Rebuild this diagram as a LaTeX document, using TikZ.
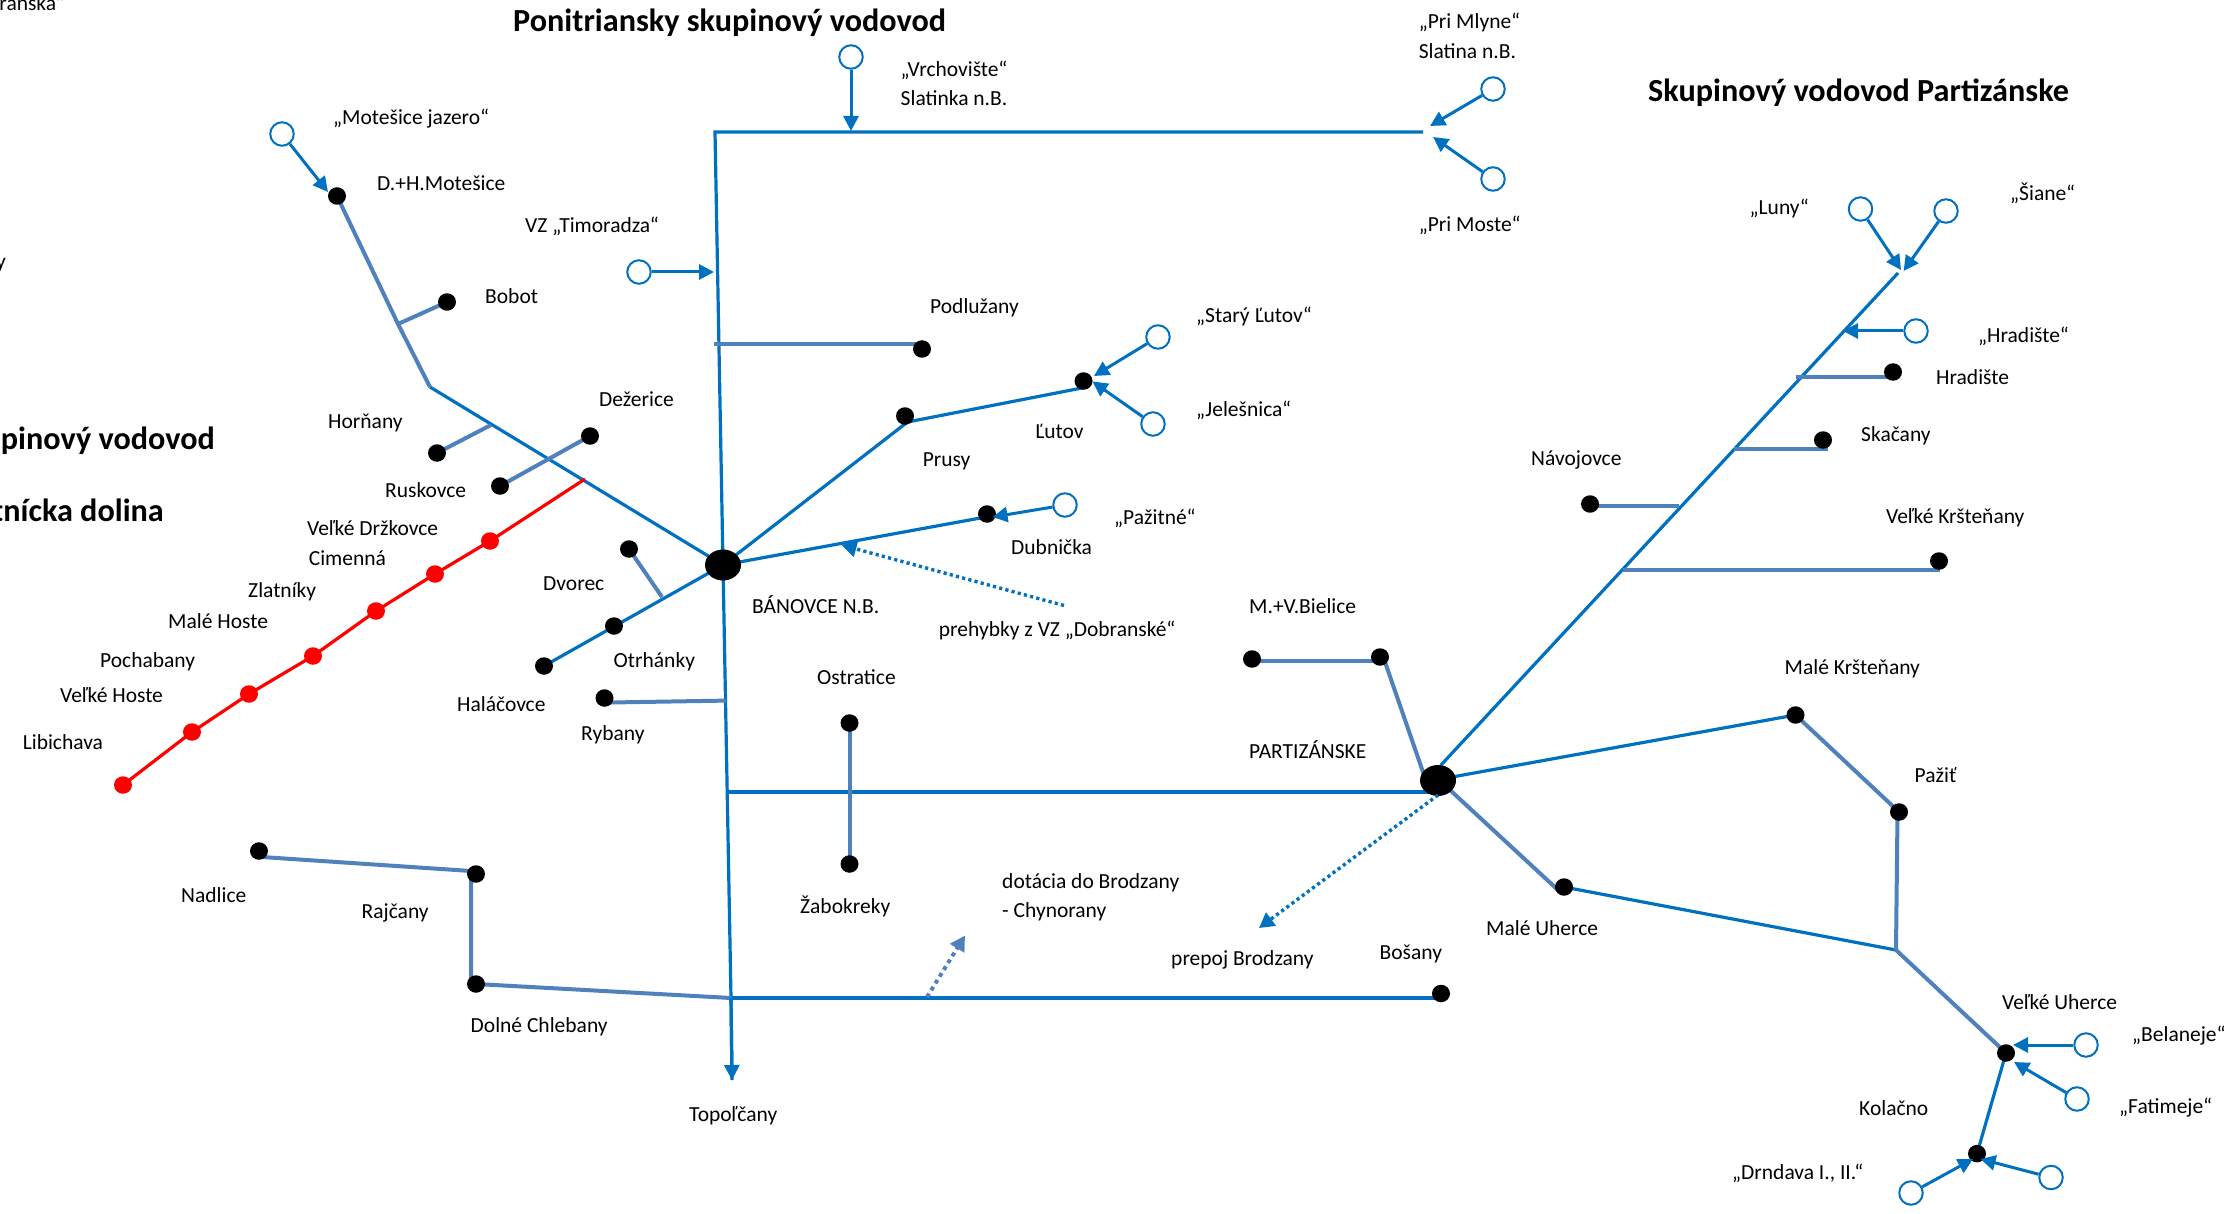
\documentclass[tikz,border=0pt]{standalone}
\usepackage{fontspec}
\setmainfont{Carlito}
\usetikzlibrary{arrows.meta,shapes.geometric}
\definecolor{pipeblue}{HTML}{0070C0}
\definecolor{pipesteel}{HTML}{4F81BD}
\pgfdeclarelayer{under}
\pgfsetlayers{under,main}
\tikzset{
  opendot/.style={circle,draw=pipeblue,fill=white,line width=2pt,minimum size=23.5pt,inner sep=0pt},
  blackdot/.style={ellipse,fill=black,minimum width=18pt,minimum height=17.5pt,inner sep=0pt},
  reddot/.style={ellipse,fill=red,minimum width=18pt,minimum height=17.5pt,inner sep=0pt},
  hubdot/.style={ellipse,fill=black,minimum width=36pt,minimum height=31pt,inner sep=0pt},
  lab/.style={anchor=base west,inner sep=0pt,font=\fontsize{21.5}{25}\selectfont},
  labr/.style={anchor=base east,inner sep=0pt,font=\fontsize{21.5}{25}\selectfont},
  ttl/.style={anchor=base west,inner sep=0pt,font=\fontsize{32.2}{37}\selectfont\bfseries},
  ttlr/.style={anchor=base east,inner sep=0pt,font=\fontsize{32.2}{37}\selectfont\bfseries},
  blue pipe/.style={draw=pipeblue,line width=3.2pt},
  steel pipe/.style={draw=pipesteel,line width=4pt},
  red pipe/.style={draw=red,line width=3.2pt},
  feed/.style={draw=pipeblue,line width=3pt,-{Triangle[length=15pt,width=15pt]}},
  dotblue/.style={draw=pipeblue,line width=3.4pt,dash pattern=on 3.2pt off 3.2pt,-{Triangle[length=15pt,width=16pt]}},
  dotsteel/.style={draw=pipesteel,line width=4pt,dash pattern=on 4pt off 4pt,-{Triangle[length=15pt,width=16pt]}},
}
\begin{document}
\begin{tikzpicture}[x=1pt,y=-1pt]
\useasboundingbox (0,0) rectangle (2224,1214);
% titles
\node[ttl] (tPon) at (513,31.5) {Ponitriansky skupinový vodovod};
\node[ttl] (tPar) at (1648,102) {Skupinový vodovod Partizánske};
\node[ttlr] (tA) at (215,449.5) {upinový vodovod};
\node[ttlr] (tB) at (164,521) {tnícka dolina};
\node[labr] (tCutA) at (65,11) {ranská“};
\node[labr] (tCutB) at (6,269) {y};
% labels
\foreach \nm/\px/\py/\tx in {
 a1/333/125/{„Motešice jazero“}, a2/377/190.6/{D.+H.Motešice}, a3/525/232.5/{VZ „Timoradza“},
 a4/485/303.5/{Bobot}, a5/599/406/{Dežerice}, a6/328/428.6/{Horňany}, a7/385/497.5/{Ruskovce},
 a8/307/535/{Veľké Držkovce}, a9/308.6/565/{Cimenná}, a10/248/597/{Zlatníky}, a11/543/590.5/{Dvorec},
 b1/168/628/{Malé Hoste}, b2/100/667/{Pochabany}, b3/60/702/{Veľké Hoste}, b4/22.6/749.6/{Libichava},
 b5/613.5/667/{Otrhánky}, b6/457/711.6/{Haláčovce}, b7/581/740/{Rybany}, b8/181/902/{Nadlice},
 b9/361.5/918/{Rajčany}, b10/470.5/1032/{Dolné Chlebany}, b11/689/1121.5/{Topoľčany},
 c1/900.5/76.5/{„Vrchovište“}, c2/900.5/105.5/{Slatinka n.B.}, c3/1418.6/28.7/{„Pri Mlyne“},
 c4/1418.6/58.5/{Slatina n.B.}, c5/1418.6/231.5/{„Pri Moste“}, c6/930/314/{Podlužany},
 c7/1196/322.6/{„Starý Ľutov“}, c8/1196/416/{„Jelešnica“}, c9/1035/438.6/{Ľutov}, c10/922.6/466/{Prusy},
 c11/1114/524/{„Pažitné“}, c12/1011/554.5/{Dubnička},
 d1/752/613/{BÁNOVCE N.B.}, d2/938.7/636.4/{prehybky z VZ „Dobranské“}, d3/1249/613/{M.+V.Bielice},
 d4/817/684.6/{Ostratice}, d5/1249/758/{PARTIZÁNSKE}, d6/800/913/{Žabokreky},
 d7/1002/888/{dotácia do Brodzany}, d8/1002/917.5/{- Chynorany}, d9/1171/965/{prepoj Brodzany},
 d10/1379.5/959.4/{Bošany},
 e1/2010/201/{„Šiane“}, e2/1749.5/215/{„Luny“}, e3/1978/342.5/{„Hradište“}, e4/1936/384.5/{Hradište},
 e5/1861/441.6/{Skačany}, e6/1531/465/{Návojovce}, e7/1886/523.5/{Veľké Kršteňany},
 f1/1784.5/674/{Malé Kršteňany}, f2/1914.5/782.5/{Pažiť}, f3/1486/935/{Malé Uherce},
 f4/2002/1009/{Veľké Uherce}, f5/2132/1041/{„Belaneje“}, f6/2119/1113.7/{„Fatimeje“},
 f7/1859/1115/{Kolačno}, f8/1732/1179.5/{„Drndava I., II.“}}
 {\node[lab] (t\nm) at (\px,\py) {\tx};}
% hubs
\node[hubdot] (ban) at (723,565) {};
\node[hubdot] (par) at (1438,780.5) {};
% black dots
\node[blackdot] (mot) at (337,196) {};
\node[blackdot] (bob) at (447,302) {};
\node[blackdot] (hor) at (437,453) {};
\node[blackdot] (dez) at (590,436) {};
\node[blackdot] (rus) at (500,486) {};
\node[blackdot] (dvo) at (629,549) {};
\node[blackdot] (otr) at (614,626) {};
\node[blackdot] (hal) at (544,666) {};
\node[blackdot] (ryb) at (604.5,698) {};
\node[blackdot] (pod) at (922,349) {};
\node[blackdot] (pru) at (905,416) {};
\node[blackdot] (lut) at (1083.5,381) {};
\node[blackdot] (dub) at (987,514) {};
\node[blackdot] (nad) at (259,851) {};
\node[blackdot] (raj) at (476,874) {};
\node[blackdot] (dol) at (476,984) {};
\node[blackdot] (ost) at (849.5,723) {};
\node[blackdot] (zab) at (849.5,864) {};
\node[blackdot] (bos) at (1441,993.5) {};
\node[blackdot] (bie) at (1252,659) {};
\node[blackdot] (bir) at (1380,657) {};
\node[blackdot] (hra) at (1893,372) {};
\node[blackdot] (ska) at (1823,440) {};
\node[blackdot] (nav) at (1590,504) {};
\node[blackdot] (vkr) at (1939,561) {};
\node[blackdot] (mkr) at (1795.5,715) {};
\node[blackdot] (paz) at (1899,812) {};
\node[blackdot] (muh) at (1564,887) {};
\node[blackdot] (vuh) at (2006,1053) {};
\node[blackdot] (kol) at (1977,1153.6) {};
% red dots
\node[reddot] (r1) at (490,541) {};
\node[reddot] (r2) at (435,574) {};
\node[reddot] (r3) at (376,611) {};
\node[reddot] (r4) at (313,656) {};
\node[reddot] (r5) at (249,694) {};
\node[reddot] (r6) at (192,732) {};
\node[reddot] (r7) at (123,785) {};
% sources
\node[opendot] (sMot) at (282,134) {};
\node[opendot] (sTim) at (639,272) {};
\node[opendot] (sVrc) at (851,57) {};
\node[opendot] (sMly) at (1493,89) {};
\node[opendot] (sMos) at (1493,179) {};
\node[opendot] (sSta) at (1158,337) {};
\node[opendot] (sJel) at (1153,424) {};
\node[opendot] (sPaz) at (1065,505) {};
\node[opendot] (sLun) at (1860.5,209) {};
\node[opendot] (sSia) at (1946,211) {};
\node[opendot] (sHra) at (1916,331) {};
\node[opendot] (sBel) at (2086,1045) {};
\node[opendot] (sFat) at (2077,1099) {};
\node[opendot] (sDrn) at (1911,1193) {};
\node[opendot] (sDr2) at (2051,1177.5) {};
% junctions and free ends
\coordinate (mTop) at (715,132);
\coordinate (mEnd) at (732,1080);
\coordinate (mRight) at (1423,132);
\coordinate (mPod) at (714,344);
\coordinate (mRyb) at (726,700.6);
\coordinate (mPar) at (726,792);
\coordinate (mParE) at (1430,792);
\coordinate (mBos) at (731,998);
\coordinate (mBosE) at (1436,998);
\coordinate (jMotA) at (398,324);
\coordinate (jMotB) at (430,387);
\coordinate (jHor) at (491,425);
\coordinate (jRed) at (585,479);
\coordinate (jDvo) at (662,597);
\coordinate (jPru) at (907.5,422);
\coordinate (jLut) at (1087,387);
\coordinate (jDub) at (986,517);
\coordinate (jTop) at (1898,273);
\coordinate (jParTop) at (1441,765);
\coordinate (jParMk) at (1452,777);
\coordinate (jParMu) at (1450,790);
\coordinate (jMuh) at (1558,890);
\coordinate (jParBi) at (1424,775);
\coordinate (jBirS) at (1385,662);
\coordinate (jHra) at (1796,377);
\coordinate (jHraE) at (1893,377);
\coordinate (jSka) at (1734,449);
\coordinate (jSkaE) at (1828,449);
\coordinate (jNav) at (1679,506);
\coordinate (jNavS) at (1590,506);
\coordinate (jVkr) at (1623,569.5);
\coordinate (jVkrE) at (1940,569.5);
\coordinate (jBie) at (1380,661);
\coordinate (jBieL) at (1252,661);
\coordinate (jPazS) at (1897.5,812);
\coordinate (jBot) at (1896,950);
\coordinate (jNad) at (262,857);
\coordinate (jRaj) at (471,871);
\coordinate (jDolB) at (471,984);
\coordinate (jPodE) at (922,344);
\coordinate (jRyb) at (610,702.5);
\coordinate (tipMot) at (328,192);
\coordinate (tipTim) at (714,272);
\coordinate (tipVrc) at (851,131);
\coordinate (tipMly) at (1430,126);
\coordinate (tipMos) at (1433,137);
\coordinate (tipSta) at (1094,376);
\coordinate (tipJel) at (1092.5,381.5);
\coordinate (tipPaz) at (992.5,517);
\coordinate (tipLun) at (1901,270);
\coordinate (tipSia) at (1903.6,271);
\coordinate (tipHra) at (1843,331);
\coordinate (tipBel) at (2013,1045);
\coordinate (tipFat) at (2014,1062);
\coordinate (tipDrn) at (1973,1159);
\coordinate (tipDr2) at (1980.5,1159);
\coordinate (dotA) at (1064,605.5);
\coordinate (tipA) at (841.5,545);
\coordinate (dotB) at (1438,795);
\coordinate (tipB) at (1259,928);
\coordinate (dotC) at (927,997);
\coordinate (tipC) at (965,935.5);
\begin{pgfonlayer}{under}
% blue mains
\draw[blue pipe] (mRight) -- (mTop) -- (mBos) -- (mEnd);
\draw[blue pipe] (mPar) -- (mParE);
\draw[blue pipe] (mBos) -- (mBosE);
\draw[blue pipe] (jMotB) -- (ban.center);
\draw[blue pipe] (ban.center) -- (hal.center);
\draw[blue pipe] (ban.center) -- (jPru) -- (jLut);
\draw[blue pipe] (ban.center) -- (jDub);
\draw[blue pipe] (jParTop) -- (jTop);
\draw[blue pipe] (jParMk) -- (mkr.center);
\draw[blue pipe] (muh.center) -- (jBot);
\draw[blue pipe] (vuh.center) -- (kol.center);
% steel branches
\draw[steel pipe] (mot.center) -- (jMotA) -- (jMotB);
\draw[steel pipe] (jMotA) -- (bob.center);
\draw[steel pipe] (jHor) -- (hor.center);
\draw[steel pipe] (dez.center) -- (rus.center);
\draw[steel pipe] (dvo.center) -- (jDvo);
\draw[steel pipe] (jRyb) -- (mRyb);
\draw[steel pipe] (mPod) -- (jPodE);
\draw[steel pipe] (jNad) -- (jRaj) -- (jDolB);
\draw[steel pipe] (dol.center) -- (mBos);
\draw[steel pipe] (ost.center) -- (zab.center);
\draw[steel pipe] (jBieL) -- (jBie);
\draw[steel pipe] (jBirS) -- (jParBi);
\draw[steel pipe] (jHra) -- (jHraE);
\draw[steel pipe] (jSka) -- (jSkaE);
\draw[steel pipe] (jNavS) -- (jNav);
\draw[steel pipe] (jVkr) -- (jVkrE);
\draw[steel pipe] (mkr.center) -- (paz.center);
\draw[steel pipe] (jPazS) -- (jBot);
\draw[steel pipe] (jParMu) -- (jMuh);
\draw[steel pipe] (jBot) -- (vuh.center);
% red line
\draw[red pipe] (jRed) -- (r1.center) -- (r2.center) -- (r3.center) -- (r4.center) -- (r5.center) -- (r6.center) -- (r7.center);
\end{pgfonlayer}
% feeds
\draw[feed] (sMot) -- (tipMot);
\draw[feed] (sTim) -- (tipTim);
\draw[feed] (sVrc) -- (tipVrc);
\draw[feed] (sMly) -- (tipMly);
\draw[feed] (sMos) -- (tipMos);
\draw[feed] (sSta) -- (tipSta);
\draw[feed] (sJel) -- (tipJel);
\draw[feed] (sPaz) -- (tipPaz);
\draw[feed] (sLun) -- (tipLun);
\draw[feed] (sSia) -- (tipSia);
\draw[feed] (sHra) -- (tipHra);
\draw[feed] (sBel) -- (tipBel);
\draw[feed] (sFat) -- (tipFat);
\draw[feed] (sDrn) -- (tipDrn);
\draw[feed] (sDr2) -- (tipDr2);
% main arrow head and dotted arrows
\draw[blue pipe,-{Triangle[length=15pt,width=15pt]}] (mBos) -- (mEnd);
\draw[dotblue] (dotA) -- (tipA);
\draw[dotblue] (dotB) -- (tipB);
\draw[dotsteel] (dotC) -- (tipC);
\end{tikzpicture}
\end{document}
